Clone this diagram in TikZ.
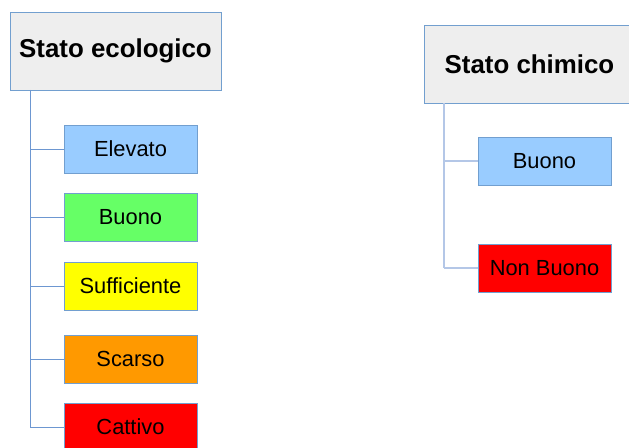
\documentclass[tikz,border=0pt]{standalone}
\usepackage{fontspec}
\setmainfont{Liberation Sans}
\definecolor{bordo}{HTML}{729FCF}
\definecolor{linea}{HTML}{6D97D1}
\definecolor{lineachiara}{HTML}{B4C7E7}
\definecolor{grigio}{HTML}{EEEEEE}
\definecolor{azzurro}{HTML}{99CCFF}
\definecolor{verde}{HTML}{66FF66}
\definecolor{giallo}{HTML}{FFFF00}
\definecolor{arancio}{HTML}{FF9900}
\definecolor{rosso}{HTML}{FF0000}
\tikzset{
  titolo/.style={draw=bordo, fill=grigio, minimum width=158.25pt, minimum height=58.5pt,
    inner sep=0pt, font=\fontsize{19.4}{23}\selectfont\bfseries},
  classe/.style={draw=bordo, minimum width=99.75pt, minimum height=36pt,
    inner sep=0pt, font=\fontsize{16.4}{20}\selectfont}
}
\begin{document}
\begin{tikzpicture}[x=0.75pt, y=-0.75pt]
            % area del disegno (pixel)
            \clip (0,0) rectangle (629,448);
            \fill[white] (0,0) rectangle (629,448);

            % stato ecologico
            \node[titolo] (eco) at (115.5,51) {Stato ecologico};
            \node[classe, fill=azzurro] (elevato) at (130.5,149) {Elevato};
            \node[classe, fill=verde] (buono) at (130.5,217.5) {Buono};
            \node[classe, fill=giallo] (sufficiente) at (130.5,286) {Sufficiente};
            \node[classe, fill=arancio] (scarso) at (130.5,359) {Scarso};
            \node[classe, fill=rosso] (cattivo) at (130.5,427) {Cattivo};

            \coordinate (ecoline) at (30,90);
            \draw[linea] (ecoline) -- (ecoline |- cattivo.west);
            \foreach \n in {elevato,buono,sufficiente,scarso,cattivo} {
                \draw[linea] (ecoline |- \n.west) -- (\n.west);
            }

            % stato chimico
            \node[titolo] (chim) at (529.5,64) {Stato chimico};
            \node[classe, fill=azzurro] (cbuono) at (544.5,161.5) {Buono};
            \node[classe, fill=rosso] (nonbuono) at (544.5,268.5) {Non Buono};

            \coordinate (chimline) at (444,103);
            \draw[lineachiara, line width=1.5pt] (chimline) -- (chimline |- nonbuono.west);
            \foreach \n in {cbuono,nonbuono} {
                \draw[lineachiara, line width=1.5pt] (chimline |- \n.west) -- (\n.west);
            }
\end{tikzpicture}
\end{document}
